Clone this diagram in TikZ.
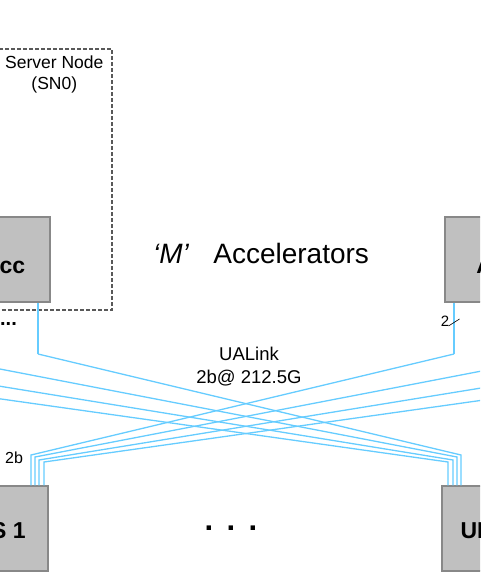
\documentclass[tikz,border=0pt]{standalone}
\usepackage{fontspec}
\setmainfont{Liberation Sans}
\usepackage{xcolor}
\usepackage{tikz}
\usetikzlibrary{positioning, calc}

\definecolor{linkblue}{RGB}{102,204,255}
\definecolor{unitgray}{RGB}{192,192,192}
\definecolor{unitedge}{RGB}{136,136,136}

\begin{document}
\begin{tikzpicture}[
    x=1pt, y=-1pt,
    unit/.style={draw=unitedge, fill=unitgray, line width=1.5pt, minimum height=85pt, inner sep=0pt, font=\fontsize{23}{27}\selectfont\bfseries},
    acc/.style={unit, text height=28pt},
    switch/.style={unit, text height=21pt},
    link/.style={draw=linkblue, line width=1.3pt},
    server/.style={draw=black!65, dash pattern=on 4pt off 2pt, line width=1.2pt, minimum width=362pt, minimum height=261pt},
    txt/.style={inner sep=0pt}
]
    \useasboundingbox (0,0) rectangle (480,588);
    \clip (0,0) rectangle (480,588);

    % Server node
    \node[server] (sn0) at (-69,179.5) {};
    \node[txt, below left=7pt and 9pt of sn0.north east, align=center, font=\fontsize{17.5}{21}\selectfont] (snlabel) {Server Node\\(SN0)};

    % Accelerators
    \node[acc, minimum width=92pt] (acc1) at (4,259.5) {Acc};
    \node[acc, minimum width=105pt] (accM) at (497.5,259.5) {Acc};
    \node[txt, anchor=base east, font=\fontsize{20}{24}\selectfont\bfseries] (moreacc) at (17,325.5) {...};
    \node[txt, anchor=base west, font=\fontsize{28}{34}\selectfont] (mlabel) at (153,263) {\textit{‘M’}\hspace{24pt}Accelerators};

    % Switches
    \node[switch, minimum width=110pt] (sw1) at (-7,528.5) {ULS 1};
    \node[switch, minimum width=106pt] (swN) at (495,528.5) {ULS N};
    \node[txt, anchor=base, font=\fontsize{31}{36}\selectfont\bfseries] (moresw) at (231,530.5) {.\hspace{13.4pt}.\hspace{13.4pt}.};

    % Accelerator ports (the ones past the edges are not shown)
    \coordinate (a1) at (38,354);
    \coordinate (aM) at (454,354);
    \coordinate (am1) at (-78,354);
    \coordinate (am2) at (-198,354);
    \coordinate (am3) at (-318,354);
    \coordinate (ap1) at (570,354);
    \coordinate (ap2) at (690,354);
    \coordinate (ap3) at (810,354);

    % Links
    \draw[link] (acc1.south -| a1) -- (a1);
    \draw[link] (accM.south -| aM) -- (aM);
    \foreach \x/\y/\t in {31/455/aM, 35/457/ap1, 39/460/ap2, 44/462/ap3}{
        \coordinate (bend) at (\x,\y);
        \draw[link] (sw1.north -| bend) -- (bend) -- (\t);
    }
    \foreach \x/\y/\t in {461/455/a1, 457/457/am1, 453/460/am2, 448/462/am3}{
        \coordinate (bend) at (\x,\y);
        \draw[link] (swN.north -| bend) -- (bend) -- (\t);
    }

    % Link labels
    \node[txt, anchor=north, align=center, font=\fontsize{18.5}{23}\selectfont] (linklabel) at (249,346.5) {UALink\\2b@ 212.5G};
    \node[txt, anchor=base west, font=\fontsize{16}{19}\selectfont] (lanes) at (5,463) {2b};
    \coordinate (tick) at (454,322.5);
    \draw[line width=0.6pt] ([shift={(-5.5,3.5)}]tick) -- ([shift={(5.5,-3.5)}]tick);
    \node[txt, anchor=base east, font=\fontsize{15}{18}\selectfont] (tickcount) at (449.5,326.7) {2};

\end{tikzpicture}
\end{document}
